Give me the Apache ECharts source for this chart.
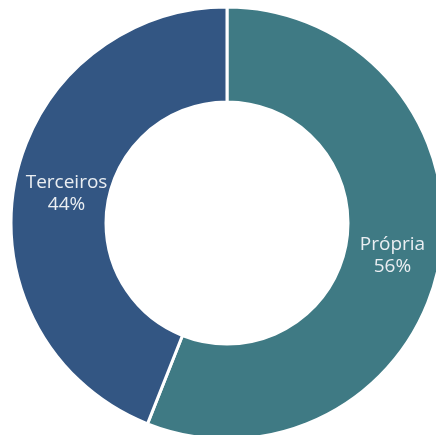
<!DOCTYPE html>
<html><head><meta charset="utf-8">
<script src="https://cdn.jsdelivr.net/npm/echarts@6/dist/echarts.min.js"></script>
<style>html,body{margin:0;padding:0;background:#fff}#c{width:436px;height:435px}</style>
</head><body><div id="c"></div>
<script>
const categories = ['Própria', 'Terceiros'];
const values = [56, 44];
const colors = ['#3f7a84', '#335683'];
const labelShift = [[-3, 0], [8, 3]];
const chart = echarts.init(document.getElementById('c'));
chart.setOption({
  animation: false,
  series: [{
    type: 'pie',
    center: [227, 223],
    radius: [121, 216],
    startAngle: 90,
    clockwise: true,
    data: categories.map((n, i) => ({ name: n, value: values[i], itemStyle: { color: colors[i] }, label: { offset: labelShift[i] } })),
    itemStyle: { borderColor: '#fff', borderWidth: 3 },
    label: {
      position: 'inside',
      formatter: p => p.name + '\n' + p.value + '%',
      color: '#eaeef2',
      fontSize: 19,
      lineHeight: 22,
      fontFamily: '"Open Sans", sans-serif'
    },
    labelLine: { show: false }
  }]
});
</script></body></html>
